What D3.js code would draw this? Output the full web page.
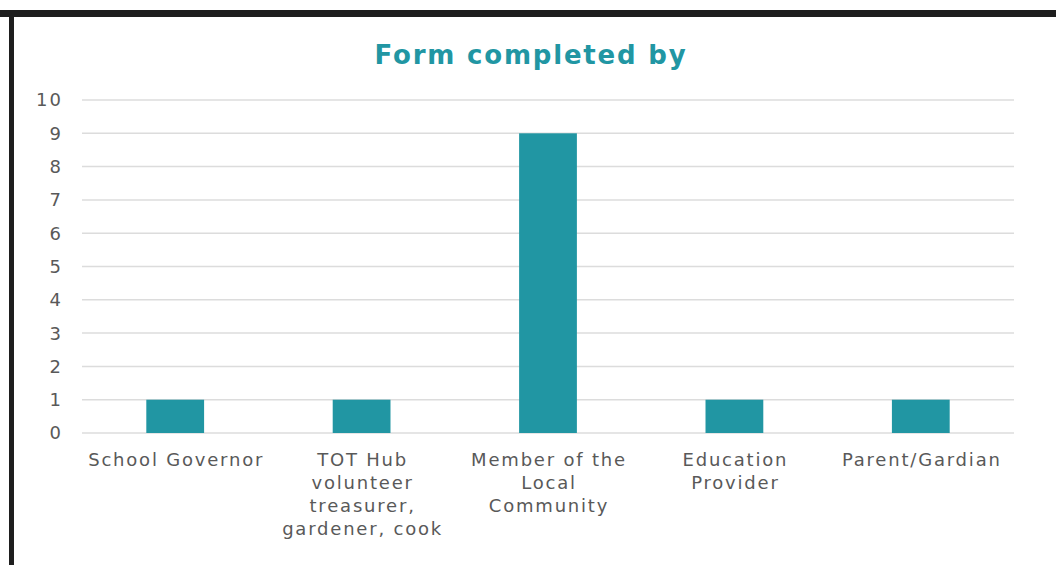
<!DOCTYPE html>
<html>
<head>
<meta charset="utf-8">
<script src="https://cdn.jsdelivr.net/npm/d3@7"></script>
<style>
  body { margin: 0; background: #fff; }
  svg { display: block; font-family: "DejaVu Sans", sans-serif; }
</style>
</head>
<body>
<svg id="chart_svg"></svg>
<script>
var categories = [
    ["School Governor"],
    ["TOT Hub", "volunteer", "treasurer,", "gardener, cook"],
    ["Member of the", "Local", "Community"],
    ["Education", "Provider"],
    ["Parent/Gardian"]
];
var counts = [1, 1, 9, 1, 1];
var yTicks = [0, 1, 2, 3, 4, 5, 6, 7, 8, 9, 10];
var chartTitle = "Form completed by";

var width = 1056, height = 565;
var teal = "#2196a3";

var svg = d3.select("#chart_svg")
    .attr("width", width)
    .attr("height", height);

// frame (screenshot edge)
svg.append("rect")
    .attr("x", 0).attr("y", 10)
    .attr("width", width).attr("height", 7)
    .attr("fill", "#1e1e1e");
svg.append("rect")
    .attr("x", 9).attr("y", 10)
    .attr("width", 5).attr("height", height - 10)
    .attr("fill", "#1e1e1e");

var plotLeft = 82, plotRight = 1014, plotTop = 100, plotBottom = 433;

var x = d3.scaleBand()
    .domain(d3.range(categories.length))
    .range([plotLeft, plotRight])
    .paddingInner(0.69)
    .paddingOuter(0.345);

var y = d3.scaleLinear()
    .domain([0, 10])
    .range([plotBottom, plotTop]);

// gridlines
svg.append("g")
    .selectAll("line")
    .data(yTicks)
    .enter().append("line")
    .attr("x1", plotLeft)
    .attr("x2", plotRight)
    .attr("y1", function (d) { return y(d); })
    .attr("y2", function (d) { return y(d); })
    .attr("stroke", "#dcdcdc")
    .attr("stroke-width", 1.5);

// y axis labels
svg.append("g")
    .selectAll("text")
    .data(yTicks)
    .enter().append("text")
    .attr("x", 63)
    .attr("y", function (d) { return y(d); })
    .attr("dy", "0.36em")
    .attr("text-anchor", "end")
    .attr("font-size", 18)
    .attr("letter-spacing", 2)
    .attr("fill", "#595959")
    .text(function (d) { return d; });

// bars
svg.append("g")
    .selectAll(".bar")
    .data(counts)
    .enter().append("rect")
    .attr("class", "bar")
    .attr("x", function (d, i) { return x(i); })
    .attr("y", function (d) { return y(d); })
    .attr("width", x.bandwidth())
    .attr("height", function (d) { return y(0) - y(d); })
    .attr("fill", teal);

// category labels (x nudged to offset trailing letter-spacing)
var labels = svg.append("g")
    .selectAll("text")
    .data(categories)
    .enter().append("text")
    .attr("x", function (d, i) { return x(i) + x.bandwidth() / 2 + 1; })
    .attr("y", 466)
    .attr("text-anchor", "middle")
    .attr("font-size", 18)
    .attr("letter-spacing", 1.8)
    .attr("fill", "#595959");

labels.selectAll("tspan")
    .data(function (d) { return d; })
    .enter().append("tspan")
    .attr("x", function () { return d3.select(this.parentNode).attr("x"); })
    .attr("dy", function (d, i) { return i === 0 ? 0 : 23; })
    .text(function (d) { return d; });

// title
svg.append("text")
    .attr("x", 531)
    .attr("y", 64)
    .attr("text-anchor", "middle")
    .attr("font-size", 26)
    .attr("font-weight", "bold")
    .attr("letter-spacing", 1.8)
    .attr("fill", teal)
    .text(chartTitle);
</script>
</body>
</html>
